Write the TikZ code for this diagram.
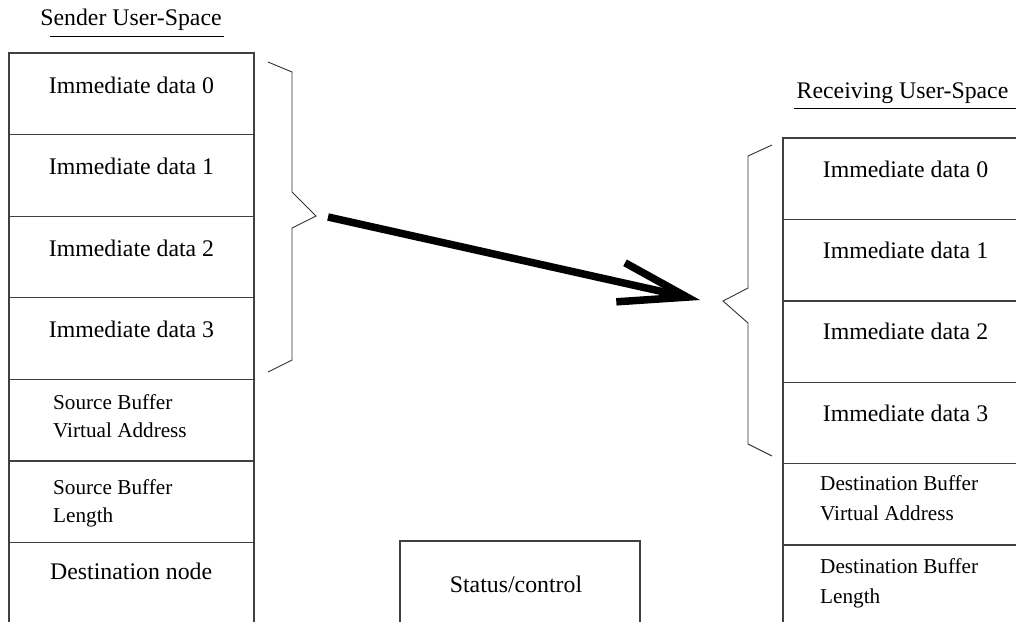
\documentclass[tikz,border=0pt]{standalone}
\usepackage{fontspec}
\setmainfont{Liberation Serif}
\usetikzlibrary{arrows.meta}

\begin{document}
\begin{tikzpicture}[x=1pt,y=-1pt,
  cell/.style={draw=black!75, line width=1.1pt, minimum width=245pt,
    minimum height=81.6pt, inner sep=0pt, outer sep=0pt, anchor=north west},
  big/.style={font=\fontsize{23.8}{28}\selectfont, inner sep=0pt},
  smallL/.style={font=\fontsize{21.2}{27.6}\selectfont, inner sep=0pt,
    align=left, anchor=north west},
  smallR/.style={font=\fontsize{21.2}{30}\selectfont, inner sep=0pt,
    align=left, anchor=north west},
  rule/.style={draw=black, line width=1pt},
  brace/.style={draw=black!80, line width=0.9pt},
  transfer/.style={line width=7.5pt, line cap=butt,
    -{Straight Barb[sharp, length=68pt, width=40pt]}}
]
\clip (0,0) rectangle (1016,621);

% ---- sender side ----
\node[big, anchor=base] (tS) at (131,25) {Sender User-Space};
\draw[rule] ([shift={(10pt,-11pt)}]tS.base west) -- ([shift={(2pt,-11pt)}]tS.base east);

\node[cell] (s0) at (9,53) {};
\node[cell] (s1) at (9,134.6) {};
\node[cell] (s2) at (9,216.2) {};
\node[cell] (s3) at (9,297.8) {};
\node[cell] (s4) at (9,379.4) {};
\node[cell] (s5) at (9,461) {};
\node[cell, minimum height=120pt] (s6) at (9,542.6) {};

\node[big, anchor=base] at ([yshift=-40pt]s0.north) {Immediate data 0};
\node[big, anchor=base] at ([yshift=-40pt]s1.north) {Immediate data 1};
\node[big, anchor=base] at ([yshift=-40pt]s2.north) {Immediate data 2};
\node[big, anchor=base] at ([yshift=-40pt]s3.north) {Immediate data 3};
\node[smallL] at ([shift={(44pt,-15pt)}]s4.north west) {Source Buffer\\Virtual Address};
\node[smallL] at ([shift={(44pt,-100pt)}]s4.north west) {Source Buffer\\Length};
\node[big, anchor=base west] at ([shift={(41pt,-37pt)}]s6.north west) {Destination node};

% ---- status box ----
\node[cell, minimum width=240pt, minimum height=120pt] (st) at (400,541) {};
\node[big, anchor=base] at (516,592) {Status/control};

% ---- receiving side ----
\node[big, anchor=base] (tR) at (902.5,98) {Receiving User-Space};
\draw[rule] ([shift={(-2pt,-10pt)}]tR.base west) -- ([shift={(8pt,-10pt)}]tR.base east);

\node[cell] (r0) at (783,138) {};
\node[cell] (r1) at (783,219.4) {};
\node[cell] (r2) at (783,300.8) {};
\node[cell] (r3) at (783,382.2) {};
\node[cell] (r4) at (783,463.6) {};
\node[cell, minimum height=120pt] (r5) at (783,545) {};

\node[big, anchor=base] at ([yshift=-39pt]r0.north) {Immediate data 0};
\node[big, anchor=base] at ([yshift=-39pt]r1.north) {Immediate data 1};
\node[big, anchor=base] at ([yshift=-39pt]r2.north) {Immediate data 2};
\node[big, anchor=base] at ([yshift=-39pt]r3.north) {Immediate data 3};
\node[smallR] at ([shift={(37pt,-12pt)}]r4.north west) {Destination Buffer\\Virtual Address};
\node[smallR] at ([shift={(37pt,-13pt)}]r5.north west) {Destination Buffer\\Length};

% ---- braces grouping the immediate data ----
\draw[brace] (268,62) -- (292,72) -- (292,192) -- (316,216) coordinate (lb)
  -- (292,228) -- (292,360) -- (268,372);
\draw[brace] (772,145) -- (748,156) -- (748,288) -- (723,301) coordinate (rb)
  -- (748,323) -- (748,444) -- (772,456);

% ---- transfer arrow ----
\draw[transfer] ([shift={(12pt,-1pt)}]lb) -- ([shift={(-23pt,1pt)}]rb);
\end{tikzpicture}
\end{document}
